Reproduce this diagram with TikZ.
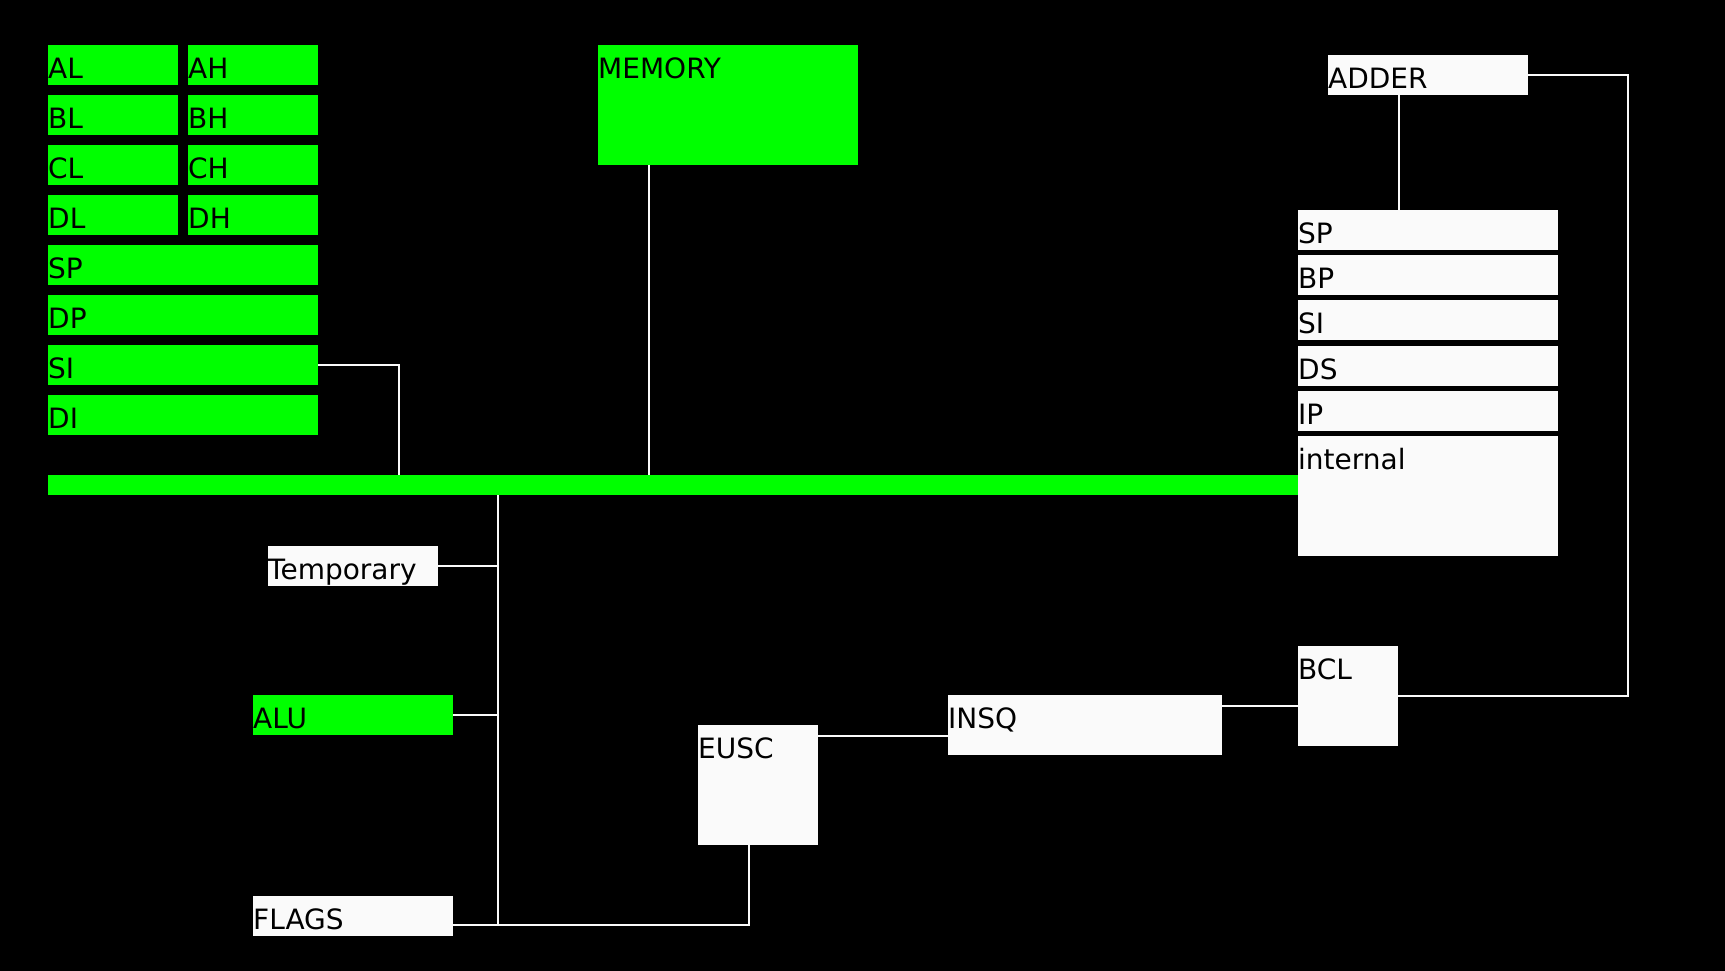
\documentclass[tikz,border=0pt]{standalone}
\usepackage{fontspec}
\setmainfont{DejaVu Sans}
\usetikzlibrary{calc}

\definecolor{regGreen}{RGB}{0,255,0}
\definecolor{boxWhite}{RGB}{250,250,250}

\tikzset{
  cell/.style={draw=none, inner sep=0pt, anchor=north west, align=left,
    text height=33pt, text depth=7pt, text=black,
    font=\fontsize{28}{30}\selectfont},
  greencell/.style={cell, fill=regGreen},
  whitecell/.style={cell, fill=boxWhite},
  wire/.style={draw=boxWhite, line width=1.5pt},
}

\begin{document}
\begin{tikzpicture}[x=1pt,y=-1pt]
  % Canvas
  \fill[black] (0,0) rectangle (1725,971);
  \useasboundingbox (0,0) rectangle (1725,971);

  % General registers (left)
  \node[greencell, text width=130pt] (al) at (48,45)  {AL};
  \node[greencell, text width=130pt] (ah) at (188,45) {AH};
  \node[greencell, text width=130pt] (bl) at (48,95)  {BL};
  \node[greencell, text width=130pt] (bh) at (188,95) {BH};
  \node[greencell, text width=130pt] (cl) at (48,145) {CL};
  \node[greencell, text width=130pt] (ch) at (188,145) {CH};
  \node[greencell, text width=130pt] (dl) at (48,195) {DL};
  \node[greencell, text width=130pt] (dh) at (188,195) {DH};
  \node[greencell, text width=270pt] (sp) at (48,245) {SP};
  \node[greencell, text width=270pt] (dp) at (48,295) {DP};
  \node[greencell, text width=270pt] (si) at (48,345) {SI};
  \node[greencell, text width=270pt] (di) at (48,395) {DI};

  % Memory
  \node[greencell, text width=260pt, text depth=87pt] (memory) at (598,45) {MEMORY};

  % Internal bus
  \node[fill=regGreen, inner sep=0pt, minimum width=1250pt, minimum height=20pt,
    anchor=north west] (bus) at (48,475) {};

  % Segment registers (right)
  \node[whitecell, text width=200pt] (adder) at (1328,55) {ADDER};
  \node[whitecell, text width=260pt] (spR) at (1298,210) {SP};
  \node[whitecell, text width=260pt] (bpR) at (1298,255) {BP};
  \node[whitecell, text width=260pt] (siR) at (1298,300) {SI};
  \node[whitecell, text width=260pt] (dsR) at (1298,346) {DS};
  \node[whitecell, text width=260pt] (ipR) at (1298,391) {IP};
  \node[whitecell, text width=260pt, text depth=87pt] (internal) at (1298,436) {internal};

  % Execution side
  \node[whitecell, text width=170pt] (temporary) at (268,546) {Temporary};
  \node[greencell, text width=200pt] (alu) at (253,695) {ALU};
  \node[whitecell, text width=200pt] (flags) at (253,896) {FLAGS};
  \node[whitecell, text width=120pt, text depth=87pt] (eusc) at (698,725) {EUSC};
  \node[whitecell, text width=274pt, text depth=27pt] (insq) at (948,695) {INSQ};
  \node[whitecell, text width=100pt, text depth=67pt] (bcl) at (1298,646) {BCL};

  % Taps on the bus
  \coordinate (siTap) at (399,475);
  \coordinate (memTap) at (649,475);
  \coordinate (busTap) at (498,495);
  \draw[wire] (si.east) -| (siTap);
  \draw[wire] (memTap |- memory.south) -- (memTap);

  % Bus down to the execution side
  \coordinate (euscFoot) at (749,925);
  \draw[wire] (busTap) -- (busTap |- euscFoot);
  \draw[wire] (temporary.east) -- (temporary.east -| busTap);
  \draw[wire] (alu.east) -- (alu.east -| busTap);
  \draw[wire] (flags.east |- euscFoot) -- (euscFoot) -- (euscFoot |- eusc.south);

  % Queue chain
  \coordinate (euscOut) at (817,736);
  \coordinate (insqOut) at (1222,706);
  \draw[wire] (euscOut) -- (euscOut -| insq.west);
  \draw[wire] (insqOut) -- (insqOut -| bcl.west);

  % Loop back to the adder
  \coordinate (loopEdge) at (1628,0);
  \coordinate (adderTap) at (1399,95);
  \draw[wire] (bcl.east) -| (loopEdge |- adder.east) -- (adder.east);
  \draw[wire] (adderTap) -- (adderTap |- spR.north);
\end{tikzpicture}
\end{document}
